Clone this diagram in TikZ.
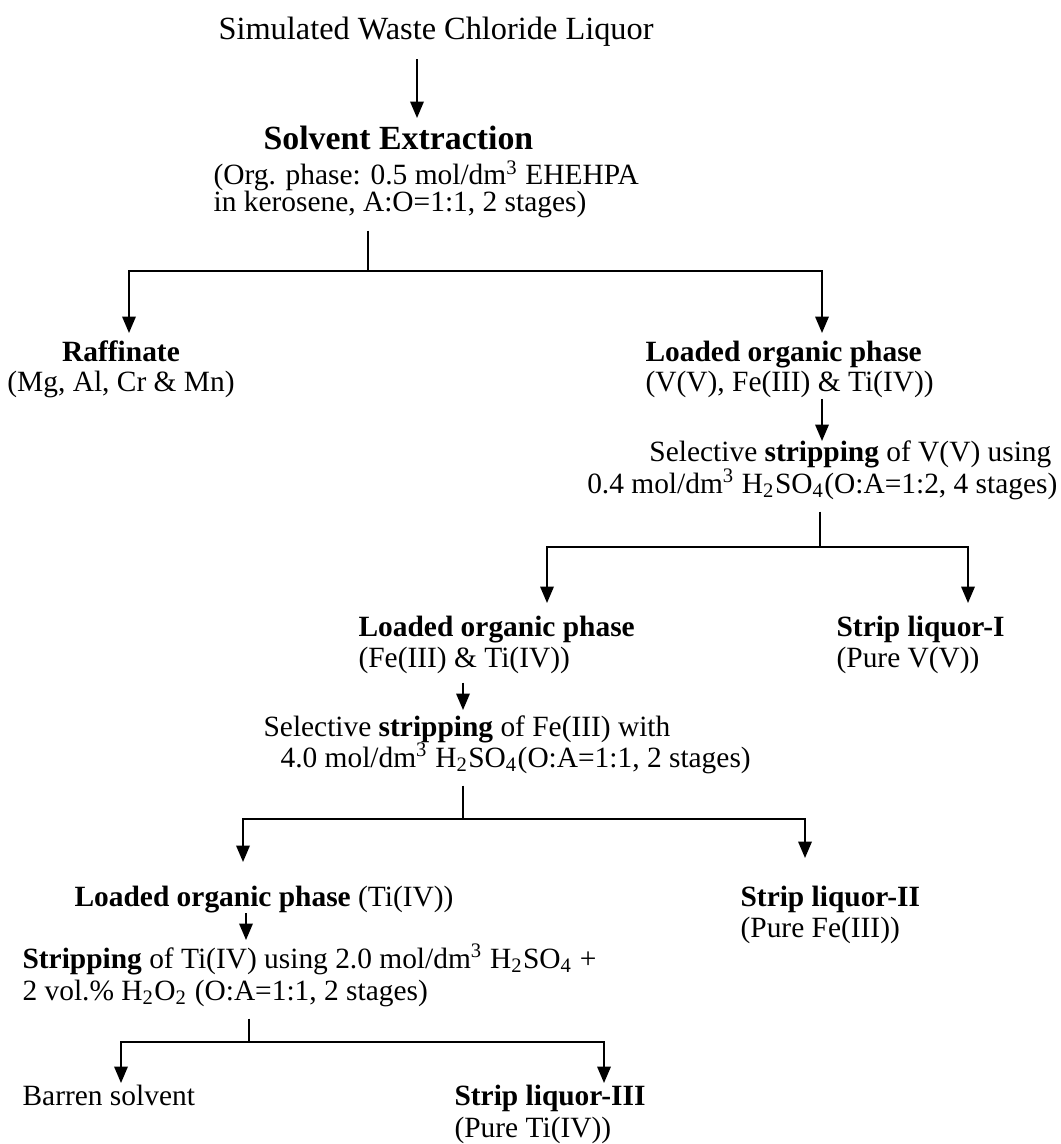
\documentclass[tikz,border=0pt]{standalone}
\usepackage{fontspec}
\setmainfont{Liberation Serif}
\usetikzlibrary{arrows.meta}

\begin{document}
\begin{tikzpicture}[x=0.34pt,y=-0.34pt,
  txt/.style={inner sep=0pt,anchor=base west,font=\fontsize{10}{12}\selectfont},
  hd/.style={txt,font=\fontsize{10}{12}\selectfont\bfseries},
  arr/.style={line width=0.6pt,-{Triangle[width=4.6pt,length=5.6pt]}},
  stub/.style={line width=0.6pt,shorten <=4pt}]
  \useasboundingbox (0,0) rectangle (1060,1144);

  \node[txt,font=\fontsize{11}{13}\selectfont] (ttl) at (218,40) {Simulated Waste Chloride Liquor};
  \node[hd,font=\fontsize{11.5}{13}\selectfont\bfseries] (solv) at (263,150) {Solvent Extraction};
  \node[txt] (org1) at (213,185) {(Org. phase: 0.5 mol/dm\textsuperscript{3} EHEHPA};
  \node[txt] (org2) at (213,212) {in kerosene, A:O=1:1, 2 stages)};

  \node[hd,anchor=base] (raf) at (121,362) {Raffinate};
  \node[txt,anchor=base] (rafb) at (121,392) {(Mg, Al, Cr \& Mn)};
  \node[hd] (lop1) at (645,362) {Loaded organic phase};
  \node[txt] (lop1b) at (645,392) {(V(V), Fe(III) \& Ti(IV))};
  \node[txt,anchor=base east] (sel1) at (1052,461) {Selective \textbf{stripping} of V(V) using};
  \node[txt,anchor=base east] (sel2) at (1058,493) {0.4 mol/dm\textsuperscript{3} H\textsubscript{2}SO\textsubscript{4}(O:A=1:2, 4 stages)};

  \node[hd] (lop2) at (358,636) {Loaded organic phase};
  \node[txt] (lop2b) at (358,667) {(Fe(III) \& Ti(IV))};
  \node[hd] (sl1) at (836,636) {Strip liquor-I};
  \node[txt] (sl1b) at (836,667) {(Pure V(V))};
  \node[txt] (sel3) at (263,736) {Selective \textbf{stripping} of Fe(III) with};
  \node[txt] (sel4) at (280,767) {4.0 mol/dm\textsuperscript{3} H\textsubscript{2}SO\textsubscript{4}(O:A=1:1, 2 stages)};

  \node[txt] (lop3) at (74,906) {\textbf{Loaded organic phase} (Ti(IV))};
  \node[hd] (sl2) at (740,906) {Strip liquor-II};
  \node[txt] (sl2b) at (740,937) {(Pure Fe(III))};
  \node[txt] (strp1) at (22,968) {\textbf{Stripping} of Ti(IV) using 2.0 mol/dm\textsuperscript{3} H\textsubscript{2}SO\textsubscript{4} +};
  \node[txt] (strp2) at (22,1000) {2 vol.\% H\textsubscript{2}O\textsubscript{2} (O:A=1:1, 2 stages)};
  \node[txt] (bar) at (22,1105) {Barren solvent};
  \node[hd] (sl3) at (454,1105) {Strip liquor-III};
  \node[txt] (sl3b) at (454,1137) {(Pure Ti(IV))};

  % branch points and arrow tips
  \coordinate (t1) at (417,118);
  \coordinate (b1) at (368,271);  \coordinate (c2) at (129,333);  \coordinate (c3) at (822,333);
  \coordinate (c4) at (822,441);
  \coordinate (b2) at (820,547);  \coordinate (c5) at (547,603);  \coordinate (c6) at (968,603);
  \coordinate (c7) at (463,710);
  \coordinate (b3) at (463,819);  \coordinate (c8) at (243,862);  \coordinate (c9) at (805,858);
  \coordinate (c10) at (246,940);
  \coordinate (b4) at (249,1042); \coordinate (c11) at (121,1083); \coordinate (c12) at (604,1083);

  \draw[arr,shorten <=4pt] (ttl.south -| t1) -- (t1);
  \draw[arr] (lop1b.south -| c4) -- (c4);
  \draw[arr,shorten <=3pt] (lop2b.south -| c7) -- (c7);
  \draw[arr] (lop3.south -| c10) -- (c10);
  \draw[stub] (org2.south -| b1) -- (b1);
  \draw[stub] (sel2.south -| b2) -- (b2);
  \draw[stub] (sel4.south -| b3) -- (b3);
  \draw[stub] (strp2.south -| b4) -- (b4);
  \foreach \j/\k in {b1/c2,b1/c3,b2/c5,b2/c6,b3/c8,b3/c9,b4/c11,b4/c12}
    \draw[arr] (\j) -| (\k);
\end{tikzpicture}
\end{document}
